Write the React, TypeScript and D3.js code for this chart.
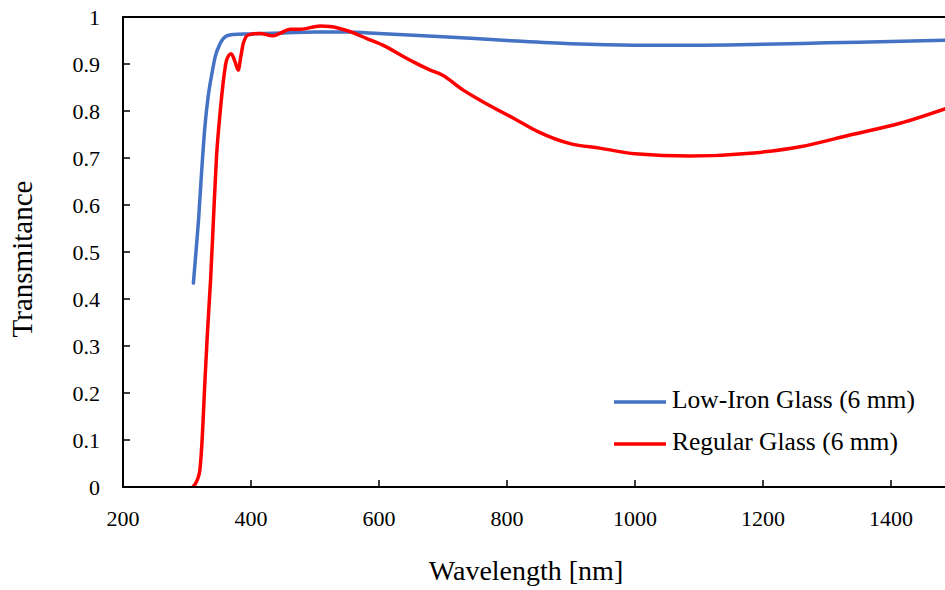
import React from "react";
import * as d3 from "d3";

const blueWl = [310, 314, 318, 323, 328, 333, 339, 344, 352, 362, 372, 400, 450, 500, 550, 600, 700, 800, 900, 1000, 1100, 1200, 1300, 1400, 1500];
const blueT = [0.434, 0.5, 0.568, 0.674, 0.767, 0.83, 0.88, 0.915, 0.944, 0.96, 0.963, 0.964, 0.966, 0.968, 0.968, 0.965, 0.958, 0.95, 0.943, 0.94, 0.94, 0.942, 0.945, 0.948, 0.951];

const redWl = [309, 316, 320, 323, 328, 332, 337, 341, 346, 352, 357, 362, 369, 375, 380, 384, 388, 396, 414, 434, 445, 461, 477, 508, 523, 555, 581, 606, 638, 653, 680, 698, 731, 758, 815, 850, 900, 945, 1000, 1086, 1180, 1258, 1336, 1414, 1500];
const redT = [0.0, 0.015, 0.035, 0.086, 0.225, 0.33, 0.445, 0.56, 0.7, 0.8, 0.866, 0.909, 0.922, 0.905, 0.887, 0.915, 0.944, 0.962, 0.965, 0.96, 0.965, 0.974, 0.974, 0.981, 0.98, 0.969, 0.954, 0.94, 0.916, 0.905, 0.887, 0.877, 0.845, 0.823, 0.781, 0.755, 0.73, 0.721, 0.709, 0.704, 0.71, 0.724, 0.749, 0.774, 0.812];

const xTicks = [200, 400, 600, 800, 1000, 1200, 1400];
const yTicks = [0, 0.1, 0.2, 0.3, 0.4, 0.5, 0.6, 0.7, 0.8, 0.9, 1];
const seriesNames = ["Low-Iron Glass (6 mm)", "Regular Glass (6 mm)"];
const seriesColors = ["#4472C4", "#FF0000"];

const W = 945;
const H = 590;
const FONT = "Liberation Serif, DejaVu Serif, Times New Roman, serif";
const ts = { fontFamily: FONT };

export default function App() {
  const x = d3.scaleLinear().domain([200, 1500]).range([123, 955]);
  const y = d3.scaleLinear().domain([0, 1]).range([487, 17]);
  const line = d3
    .line<[number, number]>()
    .x((d) => x(d[0]))
    .y((d) => y(d[1]))
    .curve(d3.curveMonotoneX);
  const blue = blueWl.map((w, i) => [w, blueT[i]] as [number, number]);
  const red = redWl.map((w, i) => [w, redT[i]] as [number, number]);
  const fmtY = (v: number) => (v === 0 ? "0" : v === 1 ? "1" : v.toFixed(1));

  return (
    <svg
      width={W}
      height={H}
      style={{ position: "absolute", left: 0, top: 0, background: "#fff" }}
    >
      <rect x={0} y={0} width={W} height={H} fill="#fff" />
      <path d={line(blue) || ""} fill="none" stroke={seriesColors[0]} strokeWidth={3.5} strokeLinejoin="round" strokeLinecap="round" />
      <path d={line(red) || ""} fill="none" stroke={seriesColors[1]} strokeWidth={3.5} strokeLinejoin="round" />
      <line x1={x(200)} x2={W} y1={y(0)} y2={y(0)} stroke="#000" strokeWidth={2} />
      <line x1={x(200)} x2={W} y1={y(1)} y2={y(1)} stroke="#000" strokeWidth={2} />
      <line x1={x(200)} x2={x(200)} y1={y(0) + 1} y2={y(1) - 1} stroke="#000" strokeWidth={2} />
      {xTicks.map((t) => (
        <g key={t}>
          <line x1={x(t)} x2={x(t)} y1={y(0)} y2={y(0) - 7} stroke="#000" strokeWidth={1.5} />
          <text x={x(t)} y={526} textAnchor="middle" fontSize={22} fill="#000" style={ts}>
            {t}
          </text>
        </g>
      ))}
      {yTicks.map((t) => (
        <g key={t}>
          <line x1={x(200)} x2={x(200) + 7} y1={y(t)} y2={y(t)} stroke="#000" strokeWidth={1.5} />
          <text x={100} y={y(t) + 7.5} textAnchor="end" fontSize={22} fill="#000" style={ts}>
            {fmtY(t)}
          </text>
        </g>
      ))}
      <text x={526} y={580} textAnchor="middle" fontSize={28} fill="#000" style={ts}>
        Wavelength [nm]
      </text>
      <text transform={`translate(32,259) rotate(-90)`} textAnchor="middle" fontSize={29} fill="#000" style={ts}>
        Transmitance
      </text>
      {seriesNames.map((n, i) => (
        <g key={n}>
          <line x1={614} x2={666} y1={402 + i * 42} y2={402 + i * 42} stroke={seriesColors[i]} strokeWidth={3.5} />
          <text x={672} y={408 + i * 42} fontSize={25.5} fill="#000" style={ts}>
            {n}
          </text>
        </g>
      ))}
    </svg>
  );
}
